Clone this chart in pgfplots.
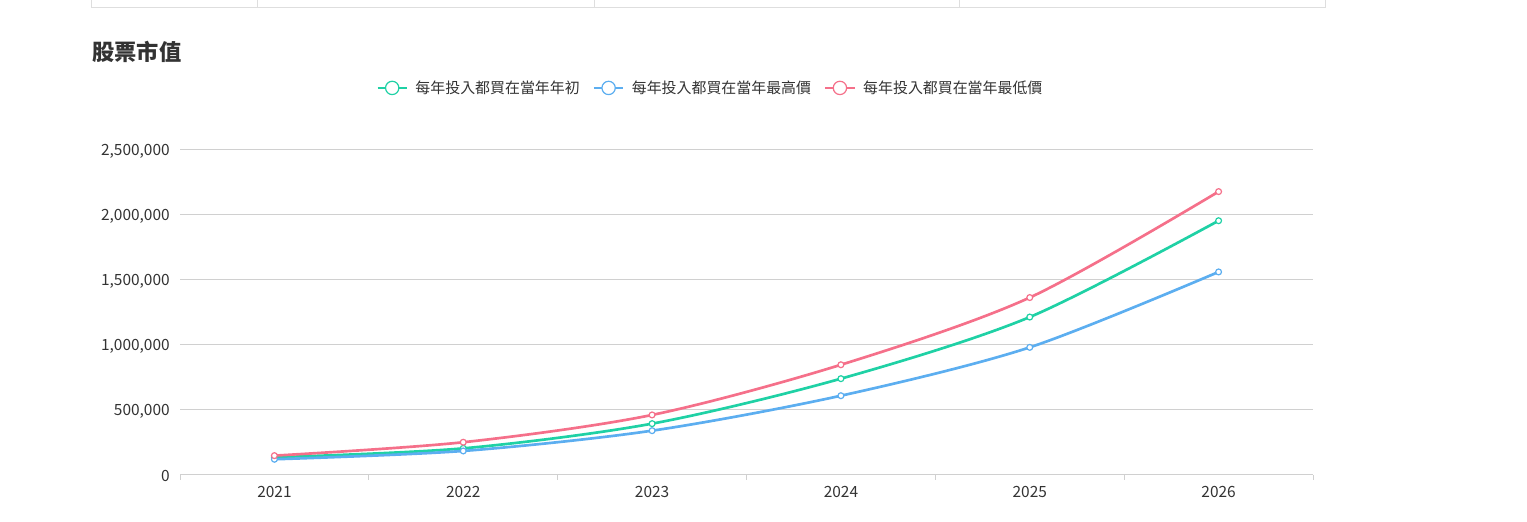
\documentclass[border=0pt]{standalone}
\usepackage{pgfplots}
\pgfplotsset{compat=1.18}
\usepackage{fontspec}
\setmainfont{Noto Sans CJK TC}
\definecolor{cgreen}{HTML}{1FD1A5}
\definecolor{cblue}{HTML}{5CAEF0}
\definecolor{cred}{HTML}{F5708A}
\definecolor{ctext}{HTML}{333333}
\definecolor{cgrid}{HTML}{D0D0D0}
\begin{document}
\begin{tikzpicture}[x=0.75pt,y=0.75pt]
\useasboundingbox (0,0) rectangle (1527,521);
% table fragment at top
\draw[color=cgrid!70,line width=0.75pt] (91,513) -- (1325,513);
\foreach \xx in {91,257,594,959,1325} {\draw[color=cgrid!70,line width=0.75pt] (\xx,521) -- (\xx,513);}
% title
\node[anchor=west,inner sep=0pt,text=ctext,font=\fontsize{16.7pt}{18pt}\selectfont\bfseries] at (92,469) {股票市值};
\begin{axis}[
  at={(135pt,34.5pt)}, anchor=south west,
  scale only axis, width=849.75pt, height=243.75pt,
  xmin=-0.5, xmax=5.5, ymin=0, ymax=2500000,
  axis x line=bottom, axis y line=left,
  x axis line style={-, draw=cgrid, line width=0.75pt},
  y axis line style={draw=none},
  xtick={0,1,2,3,4,5},
  xticklabels={2021,2022,2023,2024,2025,2026},
  minor xtick={-0.5,0.5,1.5,2.5,3.5,4.5,5.5},
  ytick={0,500000,1000000,1500000,2000000,2500000},
  scaled y ticks=false,
  /pgf/number format/.cd, fixed, 1000 sep={,}, assume math mode=true, /pgfplots/.cd,
  major tick length=0pt, minor tick length=3.75pt, tick align=outside,
  minor tick style={draw=cgrid, line width=0.75pt},
  ymajorgrids, grid style={draw=cgrid, line width=0.75pt},
  tick label style={font=\fontsize{11.6pt}{13pt}\selectfont, text=ctext, inner sep=0pt},
  xticklabel style={yshift=-8pt},
  yticklabel style={xshift=-7.5pt, yshift=-0.8pt},
  legend style={at={(0.4675,1.191)}, anchor=center, draw=none, fill=none,
    legend columns=3, font=\fontsize{11.2pt}{13pt}\selectfont, text=ctext,
    /tikz/every odd column/.append style={column sep=6pt},
    /tikz/every even column/.append style={column sep=10.2pt},
    nodes={inner sep=0pt}},
  legend image code/.code={
    \draw[line width=0.9pt] (0pt,0pt) -- (22pt,0pt);
    \draw[line width=0.9pt, fill=white] (11pt,0pt) circle (5pt);
  },
  myline/.style={line width=2pt, smooth, tension=0.5,
    mark=*, mark size=2.2pt, mark options={fill=white, line width=0.9pt, solid}},
]
\addplot[color=cgreen, myline] coordinates {(0,136000) (1,205000) (2,395000) (3,741000) (4,1215000) (5,1956000)};
\addlegendentry{每年投入都買在當年年初}
\addplot[color=cblue, myline] coordinates {(0,121000) (1,185000) (2,341000) (3,610000) (4,982000) (5,1562000)};
\addlegendentry{每年投入都買在當年最高價}
\addplot[color=cred, myline] coordinates {(0,149000) (1,252000) (2,462000) (3,848000) (4,1365000) (5,2180000)};
\addlegendentry{每年投入都買在當年最低價}
\end{axis}
\end{tikzpicture}
\end{document}
